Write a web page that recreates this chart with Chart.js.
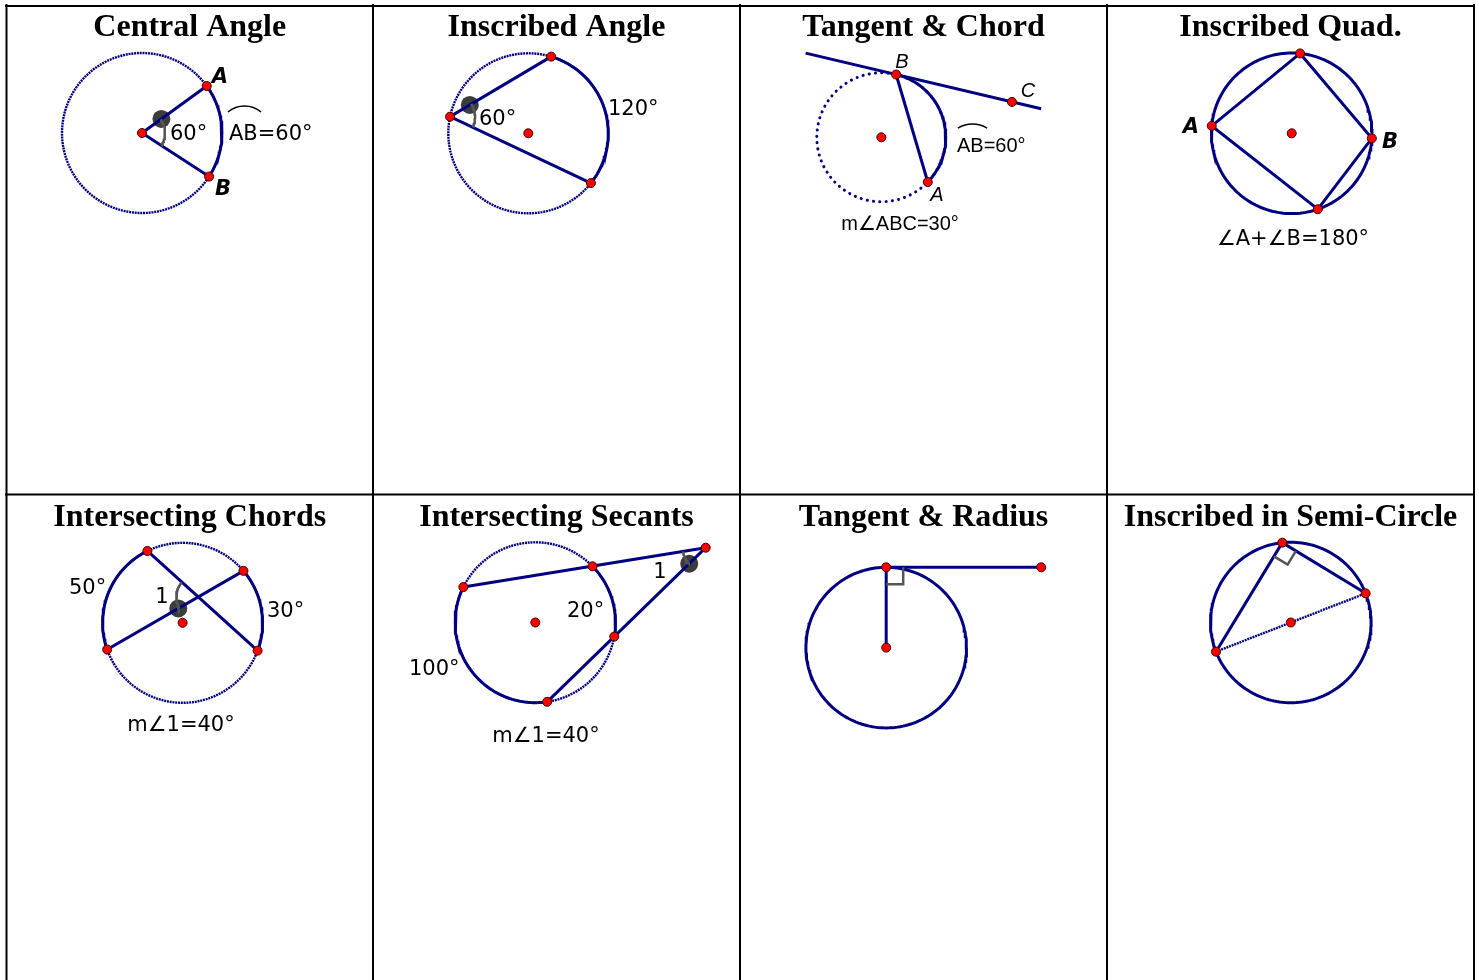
<!DOCTYPE html>
<html>
<head>
<meta charset="utf-8">
<script src="https://cdn.jsdelivr.net/npm/chart.js@4.4.0/dist/chart.umd.min.js"></script>
<style>
  html, body { margin: 0; padding: 0; background: #fff; overflow: hidden; }
  canvas { display: block; }
</style>
</head>
<body>
<canvas id="board" width="1479" height="980"></canvas>
<script>
// Panel titles, left to right, top row then bottom row
const panelTitles = ["Central Angle", "Inscribed Angle", "Tangent & Chord", "Inscribed Quad.",
  "Intersecting Chords", "Intersecting Secants", "Tangent & Radius", "Inscribed in Semi-Circle"];

// Circle of each panel (diagram units = pixels of the sheet)
const circleCenters = [[142, 133], [528.3, 133.3], [881.3, 137.3], [1291.7, 133.3],
  [182.6, 622.8], [535.3, 622.5], [886.2, 647.6], [1290.8, 622.5]];
const circleRadii = [80, 80, 64.5, 80.3, 80, 80.2, 80.3, 80.3];

// Where the points sit on each circle, in degrees (counter-clockwise from east)
const centralPts = [36, -33];                 // A, B
const inscribedPts = [168, 73.4, -38.5];      // vertex, top, bottom
const tangentChordPts = [76.7, -43.9];        // B, A
const tangentSpan = [-93, 149];               // tangent line extent from B
const tangentC = 119;                         // C along the tangent from B
const quadPts = [84, -3.6, -71, 174.7];       // top, B, bottom, A
const chordPts = [116.1, 40.5, 199.5, -20.4]; // two chords: 0-3 and 2-1
const secantPts = [153.8, 44.5, -10.1, 278.5];
const secantApex = [705.7, 547.7];
const tangentRadiusPt = 90;
const tangentLength = 155;
const semiPts = [96.1, 21.3, 201.3];          // vertex, diameter ends

// Measures written next to the figures
const arcLabels = ["60°", "AB=60°", "60°", "120°", "AB=60°", "m∠ABC=30°",
  "∠A+∠B=180°", "50°", "30°", "m∠1=40°", "20°", "100°", "m∠1=40°"];

// Table lines
const columnLines = [6.5, 373, 740, 1107, 1474];
const rowLines = [6, 494.5];

const NAVY = "#000080";
const GRAY = "#555555";

// Point on circle i at a given angle
function onCircle(i, deg) {
  const t = deg * Math.PI / 180;
  return { x: circleCenters[i][0] + circleRadii[i] * Math.cos(t), y: circleCenters[i][1] - circleRadii[i] * Math.sin(t) };
}

// Polyline along an arc around any centre
function arcAround(cx, cy, r, a0, a1) {
  const pts = [];
  const n = Math.max(2, Math.ceil(Math.abs(a1 - a0) / 2));
  for (let k = 0; k <= n; k++) {
    const t = (a0 + (a1 - a0) * k / n) * Math.PI / 180;
    pts.push({ x: cx + r * Math.cos(t), y: cy - r * Math.sin(t) });
  }
  return pts;
}

function circleArc(i, a0, a1) {
  return arcAround(circleCenters[i][0], circleCenters[i][1], circleRadii[i], a0, a1);
}

function dirOf(p, q) {
  return Math.atan2(-(q.y - p.y), q.x - p.x) * 180 / Math.PI;
}

// Small angle arc between rays v->p and v->q
function angleArc(v, p, q, r) {
  let a0 = dirOf(v, p), a1 = dirOf(v, q);
  let d = a1 - a0;
  while (d > 180) d -= 360;
  while (d < -180) d += 360;
  return arcAround(v.x, v.y, r, a0, a0 + d);
}

function alongRay(v, p, dist) {
  const dx = p.x - v.x, dy = p.y - v.y, len = Math.hypot(dx, dy);
  return { x: v.x + dx / len * dist, y: v.y + dy / len * dist };
}

function intersect(a, b, c, d) {
  const den = (b.x - a.x) * (d.y - c.y) - (b.y - a.y) * (d.x - c.x);
  const t = ((c.x - a.x) * (d.y - c.y) - (c.y - a.y) * (d.x - c.x)) / den;
  return { x: a.x + t * (b.x - a.x), y: a.y + t * (b.y - a.y) };
}

function rightMark(v, p, q, s) {
  const a = alongRay(v, p, s), b = alongRay(v, q, s);
  const c = { x: a.x + b.x - v.x, y: a.y + b.y - v.y };
  return [a, c, b];
}

const datasets = [];
const redPoints = [];
const blobs = [];

function addLine(pts, color, width, dash, order, cap) {
  datasets.push({
    data: pts, showLine: true, pointRadius: 0, borderColor: color, borderWidth: width,
    borderDash: dash || [], borderCapStyle: cap || "butt", fill: false, tension: 0, order: order, clip: false
  });
}

const fineDots = [2, 0.8];
const center = i => ({ x: circleCenters[i][0], y: circleCenters[i][1] });

// Table borders
columnLines.forEach(function(x) { addLine([{ x: x, y: 4 }, { x: x, y: 980 }], "#000", 2, null, 9); });
rowLines.forEach(function(y) { addLine([{ x: 5, y: y }, { x: 1475, y: y }], "#000", 2, null, 9); });

// 1. Central angle
(function() {
  const c = center(0), A = onCircle(0, centralPts[0]), B = onCircle(0, centralPts[1]);
  addLine(circleArc(0, 0, 360), NAVY, 2.4, fineDots, 4);
  addLine(circleArc(0, centralPts[0], centralPts[1]), NAVY, 3, null, 3);
  addLine([A, c, B], NAVY, 3, null, 3);
  addLine(angleArc(c, B, A, 23), GRAY, 2.5, null, 2);
  blobs.push(alongRay(c, A, 24));
  redPoints.push(c, A, B);
})();

// 2. Inscribed angle
(function() {
  const V = onCircle(1, inscribedPts[0]), T = onCircle(1, inscribedPts[1]), D = onCircle(1, inscribedPts[2]);
  addLine(circleArc(1, 0, 360), NAVY, 2.4, fineDots, 4);
  addLine(circleArc(1, inscribedPts[1], inscribedPts[2]), NAVY, 3, null, 3);
  addLine([T, V, D], NAVY, 3, null, 3);
  addLine(angleArc(V, D, T, 25), GRAY, 2.5, null, 2);
  blobs.push(alongRay(V, T, 23));
  redPoints.push(V, T, D, center(1));
})();

// 3. Tangent & chord
(function() {
  const B = onCircle(2, tangentChordPts[0]), A = onCircle(2, tangentChordPts[1]);
  const t = (tangentChordPts[0] - 90) * Math.PI / 180;
  const ux = Math.cos(t), uy = -Math.sin(t);
  const at = s => ({ x: B.x + ux * s, y: B.y + uy * s });
  addLine(circleArc(2, 0, 360), NAVY, 3, [0.1, 6.2], 4, "round");
  addLine(circleArc(2, tangentChordPts[0], tangentChordPts[1]), NAVY, 3, null, 3);
  addLine([at(tangentSpan[0]), at(tangentSpan[1])], NAVY, 3, null, 3);
  addLine([B, A], NAVY, 3, null, 3);
  redPoints.push(B, at(tangentC), A, center(2));
})();

// 4. Inscribed quadrilateral
(function() {
  const q = quadPts.map(a => onCircle(3, a));
  addLine(circleArc(3, 0, 360), NAVY, 3, null, 4);
  addLine(q.concat([q[0]]), NAVY, 3, null, 3);
  redPoints.push(...q, center(3));
})();

// 5. Intersecting chords
(function() {
  const p = chordPts.map(a => onCircle(4, a));
  const I = intersect(p[0], p[3], p[2], p[1]);
  addLine(circleArc(4, 0, 360), NAVY, 2.4, fineDots, 4);
  addLine(circleArc(4, chordPts[0], chordPts[2]), NAVY, 3, null, 3);
  addLine(circleArc(4, chordPts[1], chordPts[3]), NAVY, 3, null, 3);
  addLine([p[0], p[3]], NAVY, 3, null, 3);
  addLine([p[2], p[1]], NAVY, 3, null, 3);
  addLine(angleArc(I, p[0], p[2], 22), GRAY, 2.5, null, 2);
  blobs.push(alongRay(I, p[2], 23));
  redPoints.push(...p, center(4));
})();

// 6. Intersecting secants
(function() {
  const p = secantPts.map(a => onCircle(5, a));
  const E = { x: secantApex[0], y: secantApex[1] };
  addLine(circleArc(5, 0, 360), NAVY, 2.4, fineDots, 4);
  addLine(circleArc(5, secantPts[1], secantPts[2]), NAVY, 3, null, 3);
  addLine(circleArc(5, secantPts[0], secantPts[3]), NAVY, 3, null, 3);
  addLine([p[0], E], NAVY, 3, null, 3);
  addLine([p[3], E], NAVY, 3, null, 3);
  addLine(angleArc(E, p[0], p[3], 23), GRAY, 2.5, null, 2);
  blobs.push(alongRay(E, p[3], 23));
  redPoints.push(...p, E, center(5));
})();

// 7. Tangent & radius
(function() {
  const c = center(6), T = onCircle(6, tangentRadiusPt);
  const F = { x: T.x + tangentLength, y: T.y };
  addLine(circleArc(6, 0, 360), NAVY, 3, null, 4);
  addLine([c, T], NAVY, 3, null, 3);
  addLine([T, F], NAVY, 3, null, 3);
  addLine(rightMark(T, F, c, 17), GRAY, 2.5, null, 2);
  redPoints.push(T, F, c);
})();

// 8. Inscribed in semi-circle
(function() {
  const V = onCircle(7, semiPts[0]), R = onCircle(7, semiPts[1]), L = onCircle(7, semiPts[2]);
  addLine(circleArc(7, 0, 360), NAVY, 3, null, 4);
  addLine([L, R], NAVY, 2.4, fineDots, 4);
  addLine([L, V, R], NAVY, 3, null, 3);
  addLine(rightMark(V, L, R, 16), GRAY, 2.5, null, 2);
  redPoints.push(V, R, L, center(7));
})();

datasets.push({ data: blobs, pointRadius: 9, pointBackgroundColor: "#3c3c3c", pointBorderWidth: 0, showLine: false, order: 5, clip: false });
datasets.push({ data: redPoints, pointRadius: 4.5, pointBackgroundColor: "#ff0000", pointBorderColor: "#3a0000", pointBorderWidth: 1, showLine: false, order: 0, clip: false });

// Draw titles and labels on top of the figures
const labelPlugin = {
  id: "labels",
  afterDatasetsDraw(chart) {
    const ctx = chart.ctx;
    const xs = chart.scales.x, ys = chart.scales.y;
    const comic = '21px "DejaVu Sans"';
    const comicBold = 'bold italic 21px "DejaVu Sans"';
    const arial = '20px "Liberation Sans"';
    const arialIt = 'italic 20px "Liberation Sans"';

    function put(t, x, y, font, align, base) {
      ctx.font = font;
      ctx.textAlign = align || "center";
      ctx.textBaseline = base || "middle";
      ctx.fillStyle = "#000";
      // middle baseline sits a little high for capitals and digits
      const dy = base ? 0 : 2;
      ctx.fillText(t, xs.getPixelForValue(x), ys.getPixelForValue(y) + dy);
    }
    function overArc(x, y, r, half) {
      ctx.beginPath();
      ctx.strokeStyle = "#000";
      ctx.lineWidth = 1.5;
      const a = half * Math.PI / 180;
      ctx.arc(xs.getPixelForValue(x), ys.getPixelForValue(y), r, 1.5 * Math.PI - a, 1.5 * Math.PI + a);
      ctx.stroke();
    }

    ctx.save();
    // titles
    panelTitles.forEach(function(t, i) {
      const col = i % 4;
      const cx = (columnLines[col] + columnLines[col + 1]) / 2;
      put(t, cx, i < 4 ? 36 : 526, 'bold 32px "Liberation Serif"', "center", "alphabetic");
    });

    // central angle
    put("A", 220, 76, comicBold);
    put("B", 223, 188, comicBold);
    put(arcLabels[0], 170, 133, comic, "left");
    put(arcLabels[1], 229, 133, comic, "left");
    overArc(244.5, 131.7, 25.7, 40);

    // inscribed angle
    put(arcLabels[2], 479, 118, comic, "left");
    put(arcLabels[3], 608, 108, comic, "left");

    // tangent & chord
    put("B", 902, 60, arialIt);
    put("C", 1028, 89, arialIt);
    put("A", 937, 193, arialIt);
    put(arcLabels[4], 957, 144, arial, "left");
    overArc(972.5, 152.3, 28.3, 31);
    put(arcLabels[5], 900, 222, arial);

    // inscribed quad
    put("A", 1191, 126, comicBold);
    put("B", 1390, 141, comicBold);
    put(arcLabels[6], 1293, 238, comic);

    // intersecting chords
    put(arcLabels[7], 69, 587, comic, "left");
    put(arcLabels[8], 267, 610, comic, "left");
    put("1", 162, 596, comic);
    put(arcLabels[9], 181, 724, comic);

    // intersecting secants
    put("1", 660, 571, comic);
    put(arcLabels[10], 567, 610, comic, "left");
    put(arcLabels[11], 409, 668, comic, "left");
    put(arcLabels[12], 546, 735, comic);
    ctx.restore();
  }
};

new Chart(document.getElementById("board"), {
  type: "scatter",
  data: { datasets: datasets },
  options: {
    responsive: false,
    devicePixelRatio: 1,
    animation: false,
    events: [],
    layout: { padding: 0, autoPadding: false },
    plugins: { legend: { display: false }, tooltip: { enabled: false } },
    scales: {
      x: { type: "linear", min: 0, max: 1479, display: false },
      y: { type: "linear", min: 0, max: 980, reverse: true, display: false }
    }
  },
  plugins: [labelPlugin]
});
</script>
</body>
</html>
